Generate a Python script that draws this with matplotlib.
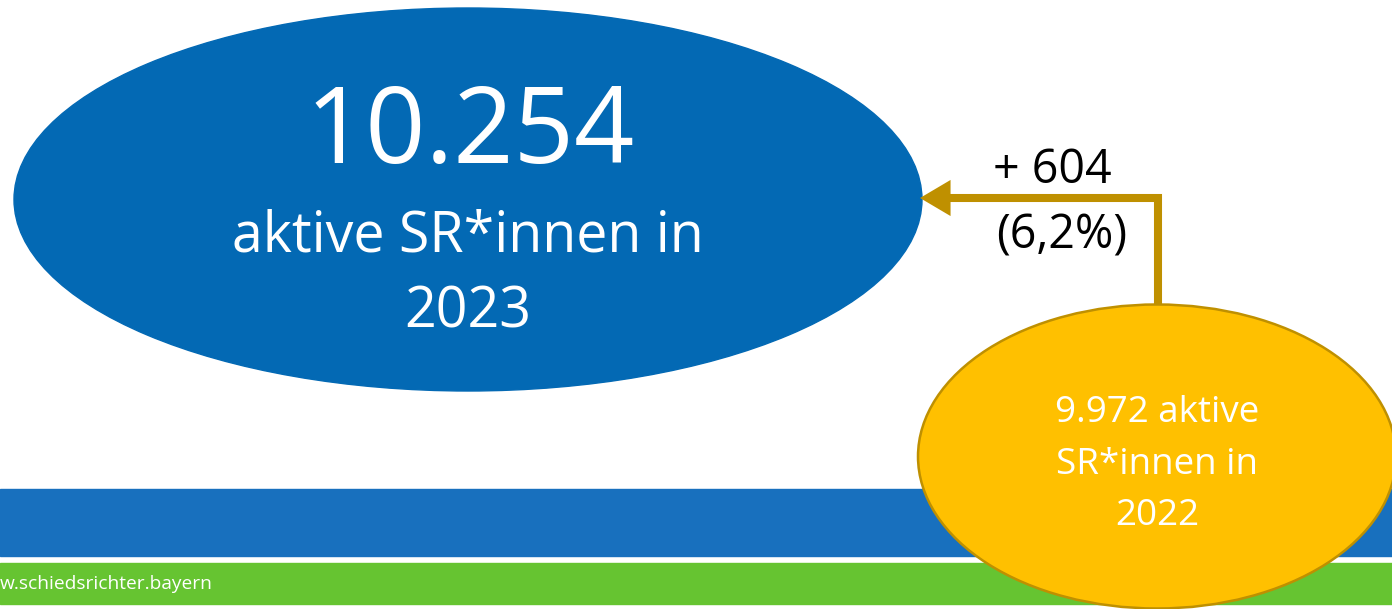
import matplotlib.pyplot as plt
from matplotlib.patches import Ellipse, Rectangle

# values shown in the graphic
years = [2023, 2022]
active_refs = [10254, 9972]
change_abs = 604
change_pct = 6.2
label_word = 'aktive SR*innen in'
footer_text = 'w.schiedsrichter.bayern'

BLUE_OVAL = '#0369B4'
BLUE_BAND = '#1870BE'
GREEN_BAND = '#66C431'
YELLOW = '#FFC000'
GOLD = '#BF9000'

plt.rcParams['font.family'] = ['Open Sans', 'DejaVu Sans']


def de_num(n):
    '''German thousands separator'''
    return f'{n:,}'.replace(',', '.')


def de_pct(p):
    return f'{p:.1f}'.replace('.', ',') + '%'


fig = plt.figure(figsize=(13.92, 6.09), dpi=100)
ax = fig.add_axes([0, 0, 1, 1])
ax.set_xlim(0, 1392)
ax.set_ylim(609, 0)
ax.axis('off')

# bottom bands
ax.add_patch(Rectangle((0, 489), 1392, 67, color=BLUE_BAND, zorder=1))
ax.add_patch(Rectangle((0, 563), 1392, 41, color=GREEN_BAND, zorder=1))
ax.text(0, 589, footer_text, color='white', fontsize=13.8, va='baseline',
        ha='left', zorder=2)

# big oval 2023
ax.add_patch(Ellipse((468, 199.5), 908, 383, color=BLUE_OVAL, zorder=2))
ax.text(470, 163, de_num(active_refs[0]), color='white', fontsize=76,
        ha='center', va='baseline', zorder=3)
ax.text(468, 252, label_word, color='white', fontsize=40,
        ha='center', va='baseline', zorder=3)
ax.text(468, 328, str(years[0]), color='white', fontsize=40,
        ha='center', va='baseline', zorder=3)

# connector arrow
ax.plot([1158, 1158, 935], [306, 198, 198], color=GOLD, lw=5.8,
        solid_capstyle='butt', solid_joinstyle='miter', zorder=2)
ax.annotate('', xy=(920, 198), xytext=(945, 198), zorder=3,
            arrowprops=dict(arrowstyle='-|>,head_length=1.1,head_width=0.65',
                            color=GOLD, lw=0, mutation_scale=20,
                            shrinkA=0, shrinkB=0))
ax.text(1052, 183, f'+ {change_abs}', color='black', fontsize=33.5,
        ha='center', va='baseline', zorder=3)
ax.text(1062, 248, f'({de_pct(change_pct)})', color='black', fontsize=33.5,
        ha='center', va='baseline', zorder=3)

# small oval 2022
ax.add_patch(Ellipse((1157, 456.5), 478, 304, facecolor=YELLOW,
                     edgecolor=GOLD, lw=1.8, zorder=4))
ax.text(1157, 422, de_num(active_refs[1]) + ' aktive', color='white',
        fontsize=26.5, ha='center', va='baseline', zorder=5)
ax.text(1157, 474, 'SR*innen in', color='white', fontsize=26.5,
        ha='center', va='baseline', zorder=5)
ax.text(1157, 525, str(years[1]), color='white', fontsize=26.5,
        ha='center', va='baseline', zorder=5)

fig.savefig('out.png', dpi=100)
